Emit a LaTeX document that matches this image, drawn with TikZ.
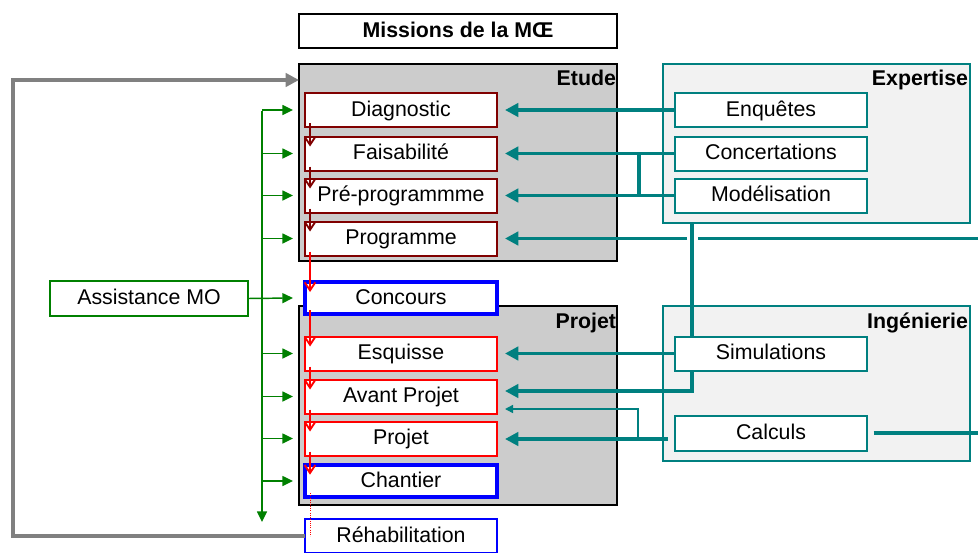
\documentclass[tikz,border=0pt]{standalone}
\usepackage{fontspec}
\setmainfont{Liberation Sans}
\usetikzlibrary{arrows.meta,calc}
\definecolor{tealc}{RGB}{0,128,128}
\definecolor{dred}{RGB}{128,0,0}
\definecolor{ggreen}{RGB}{0,128,0}
\definecolor{boxgray}{RGB}{204,204,204}
\definecolor{lgray}{RGB}{242,242,242}
\definecolor{agray}{RGB}{128,128,128}
\begin{document}
\begin{tikzpicture}[x=0.75pt,y=-0.75pt,
  font=\fontsize{16}{19}\selectfont,
  every node/.style={inner sep=0pt,outer sep=0pt,text height=11pt,text depth=2pt},
  phasebox/.style={draw,fill=white,minimum width=144pt,minimum height=25.5pt,line width=1.5pt},
  etbox/.style={phasebox,draw=dred},
  prbox/.style={phasebox,draw=red},
  keybox/.style={phasebox,draw=blue,line width=3.2pt},
  rehabbox/.style={phasebox,draw=blue,line width=1.1pt},
  exbox/.style={phasebox,draw=tealc},
  graybox/.style={draw=black,fill=boxgray,line width=1.5pt,minimum width=238.5pt},
  domainbox/.style={draw=tealc,fill=lgray,line width=1.5pt,minimum width=230.25pt},
  hdr/.style={font=\fontsize{16}{19}\selectfont\bfseries,anchor=east},
  tarrow/.style={draw=tealc,line width=2.6pt,-{Triangle[length=10pt,width=10pt]}},
  tline/.style={draw=tealc,line width=2.6pt},
  tthin/.style={draw=tealc,line width=1.1pt,-{Triangle[length=6pt,width=6pt]}},
  garrow/.style={draw=ggreen,line width=1.1pt,-{Triangle[length=8pt,width=7.5pt]}},
  rarrow/.style={line width=1.4pt,-{Straight Barb[length=6pt,width=8pt]}},
]
\useasboundingbox (0,0) rectangle (978,553);

% frame boxes
\node[draw=black,line width=1.5pt,fill=white,minimum width=238.5pt,minimum height=25.5pt,font=\fontsize{16}{19}\selectfont\bfseries] (title) at (458,31) {Missions de la MŒ};
\node[graybox,minimum height=147.75pt] (etude) at (458,162.5) {};
\node[graybox,minimum height=149.25pt] (projetbox) at (458,405.5) {};
\node[domainbox,minimum height=119.25pt] (expertise) at (816.5,143.5) {};
\node[domainbox,minimum height=116.25pt] (ingenierie) at (816.5,383.5) {};

\node[hdr] (etudelbl) at (616,79.5) {Etude};
\node[hdr] (projetlbl) at (616,322) {Projet};
\node[hdr] (expertlbl) at (968,79.5) {Expertise};
\node[hdr] (ingenlbl) at (968,322) {Ingénierie};

% phase boxes
\node[etbox] (diag) at (401,110) {Diagnostic};
\node[etbox] (fais) at (401,153.5) {Faisabilité};
\node[etbox] (prepro) at (401,195.5) {Pré-programmme};
\node[etbox] (prog) at (401,238.5) {Programme};
\node[keybox,minimum height=24pt] (conc) at (401,298) {Concours};
\node[prbox] (esq) at (401,353.5) {Esquisse};
\node[prbox] (avp) at (401,396.5) {Avant Projet};
\node[prbox] (proj) at (401,438.5) {Projet};
\node[keybox,minimum height=24.5pt] (chant) at (401,481) {Chantier};
\node[rehabbox] (rehab) at (401,536) {Réhabilitation};

% expertise boxes
\node[exbox] (enq) at (771,110) {Enquêtes};
\node[exbox] (concert) at (771,153.5) {Concertations};
\node[exbox] (model) at (771,195.5) {Modélisation};
\node[exbox] (simul) at (771,353.5) {Simulations};
\node[exbox,minimum height=26.25pt] (calc) at (771,433) {Calculs};

\node[draw=ggreen,line width=1.1pt,fill=white,minimum width=148.5pt,minimum height=26.25pt] (assist) at (149,298.5) {Assistance MO};

% red sequence arrows
\foreach \a/\b/\c in {diag/fais/dred,fais/prepro/dred,prepro/prog/dred,prog/conc/red,conc/esq/red,esq/avp/red,avp/proj/red,proj/chant/red}{
  \draw[rarrow,draw=\c] ([xshift=3.75pt,yshift=3pt]\a.south west) -- ([xshift=3.75pt,yshift=-7.5pt]\b.north west);
}
\draw[red,line width=0.6pt,densely dotted] ([xshift=3.75pt,yshift=3pt]chant.south west) -- ([xshift=3.75pt,yshift=0pt]rehab.west);

% green arrows
\coordinate (gtop) at (262,111);
\coordinate (gbot) at (262,522);
\draw[garrow] (gtop) -- (gbot);
\foreach \n in {diag,fais,prepro,prog,esq,avp,proj,chant}{
  \draw[garrow] (gtop |- \n.west) -- ([xshift=-9pt]\n.west);
}
\draw[garrow] (assist.east) -- ([xshift=-9pt]conc.west);

% gray feedback arrow
\coordinate (gl1) at (13,536);
\coordinate (gl2) at (13,80);
\draw[agray,line width=3pt,-{Triangle[length=10pt,width=10pt]}] (rehab.west) -- (gl1) -- (gl2) -- (gl2 -| etude.west);

% teal arrows, expertise
\draw[tarrow] (enq.west) -- ([xshift=6pt]diag.east);
\draw[tarrow] (concert.west) -- ([xshift=6pt]fais.east);
\draw[tarrow] (model.west) -- ([xshift=6pt]prepro.east);
\coordinate (jt) at (639,153.5);
\draw[tline] (jt) -- (jt |- model.west);
\coordinate (pr) at (978,238.5);
\coordinate (gapR) at (698,238.5);
\coordinate (gapL) at (687,238.5);
\draw[tline] (pr) -- (gapR);
\draw[tarrow] (gapL) -- ([xshift=6pt]prog.east);
\coordinate (vt) at (692,223);
\draw[tline] (vt) -- (vt |- simul.north);

% teal arrows, ingenierie
\draw[tarrow] (simul.west) -- ([xshift=6pt]esq.east);
\coordinate (sv) at (692,391);
\draw[tarrow] (sv |- simul.south) -- (sv) -- ([xshift=6pt]avp.east |- sv);
\coordinate (cp) at (668,439);
\draw[tarrow] (cp) -- ([xshift=6pt]proj.east |- cp);
\coordinate (tj) at (638,439);
\coordinate (tk) at (638,409);
\draw[tthin] (tj) -- (tk) -- ([xshift=6pt]avp.east |- tk);
\coordinate (ce) at (978,433);
\draw[tline] ([xshift=5pt]calc.east) -- (ce);
\end{tikzpicture}
\end{document}
